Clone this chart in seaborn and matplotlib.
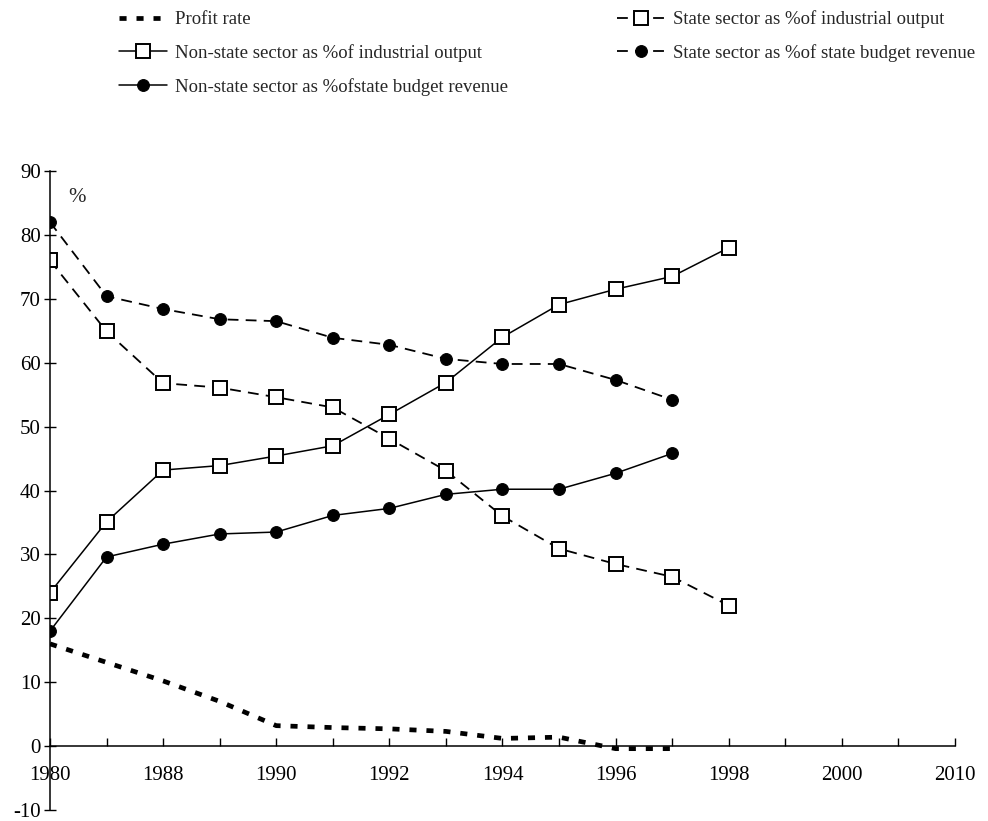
import pandas as pd
import matplotlib.pyplot as plt
import seaborn as sns

# category axis: 17 evenly spaced slots, every other one labelled
years = ['1980', '1985', '1988', '1989', '1990', '1991', '1992', '1993', '1994',
         '1995', '1996', '1997', '1998', '1999', '2000', '2005', '2010']

profit_rate = [16, 13.1, 10.2, 7.0, 3.2, 2.9, 2.7, 2.3, 1.2, 1.4, -0.4, -0.4]
state_output = [76, 64.9, 56.8, 56.1, 54.6, 53.0, 48.1, 43.1, 36.0, 30.9, 28.5, 26.5, 22.0]
nonstate_output = [24, 35.1, 43.2, 43.9, 45.4, 47.0, 51.9, 56.9, 64.0, 69.1, 71.5, 73.5, 78.0]
state_budget = [82, 70.4, 68.4, 66.8, 66.5, 63.9, 62.8, 60.6, 59.8, 59.8, 57.3, 54.2]
nonstate_budget = [18, 29.6, 31.6, 33.2, 33.5, 36.1, 37.2, 39.4, 40.2, 40.2, 42.7, 45.8]

sns.set_style('white')
plt.rcParams['font.family'] = ['Liberation Serif', 'DejaVu Serif']
plt.rcParams['axes.unicode_minus'] = False

fig = plt.figure(figsize=(9.88, 8.21), dpi=100)
ax = fig.add_axes([0.0506, 0.0134, 0.916, 0.7783])


def frame(vals):
    return pd.DataFrame({'pos': range(len(vals)), 'val': vals})


sns.lineplot(data=frame(profit_rate), x='pos', y='val', ax=ax, color='black',
             lw=3.4, linestyle=(0, (1.5, 2.1)), label='Profit rate')
sns.lineplot(data=frame(nonstate_output), x='pos', y='val', ax=ax, color='black',
             lw=1.1, marker='s', markersize=9.5, markerfacecolor='white',
             markeredgecolor='black', markeredgewidth=1.4,
             label='Non-state sector as %of industrial output')
sns.lineplot(data=frame(nonstate_budget), x='pos', y='val', ax=ax, color='black',
             lw=1.1, marker='o', markersize=8.5, markerfacecolor='black',
             markeredgecolor='black',
             label='Non-state sector as %ofstate budget revenue')
sns.lineplot(data=frame(state_output), x='pos', y='val', ax=ax, color='black',
             lw=1.3, linestyle=(0, (6, 4)), marker='s', markersize=9.5,
             markerfacecolor='white', markeredgecolor='black', markeredgewidth=1.4,
             label='State sector as %of industrial output')
sns.lineplot(data=frame(state_budget), x='pos', y='val', ax=ax, color='black',
             lw=1.3, linestyle=(0, (6, 4)), marker='o', markersize=8.5,
             markerfacecolor='black', markeredgecolor='black',
             label='State sector as %of state budget revenue')

handles, labels = ax.get_legend_handles_labels()
ax.get_legend().remove()
fig.legend(handles, labels, ncol=2, loc='upper left', bbox_to_anchor=(0.103, 1.008),
           frameon=False, fontsize=13.5, handlelength=2.6, handletextpad=0.4,
           columnspacing=5.8, labelspacing=0.85)

ax.set_xlim(0, 16)
ax.set_ylim(-10, 90)
ax.set_yticks(range(-10, 91, 10))
ax.set_xticks(range(len(years)))
ax.set_xticklabels([y if i % 2 == 0 else '' for i, y in enumerate(years)])
ax.set_xlabel('')
ax.set_ylabel('')

ax.spines['top'].set_visible(False)
ax.spines['right'].set_visible(False)
ax.spines['bottom'].set_position(('data', 0))
for s in ['left', 'bottom']:
    ax.spines[s].set_color('black')
    ax.spines[s].set_linewidth(1.1)

ax.tick_params(axis='x', direction='in', length=6, width=1, pad=14,
               labelsize=15, colors='black', bottom=True)
ax.tick_params(axis='y', direction='inout', length=9, width=1, pad=2,
               labelsize=15, colors='black', left=True)
ax.text(0.02, 0.958, '%', transform=ax.transAxes, fontsize=15, ha='left', va='center')

fig.savefig('out.png', dpi=100, facecolor='white')
